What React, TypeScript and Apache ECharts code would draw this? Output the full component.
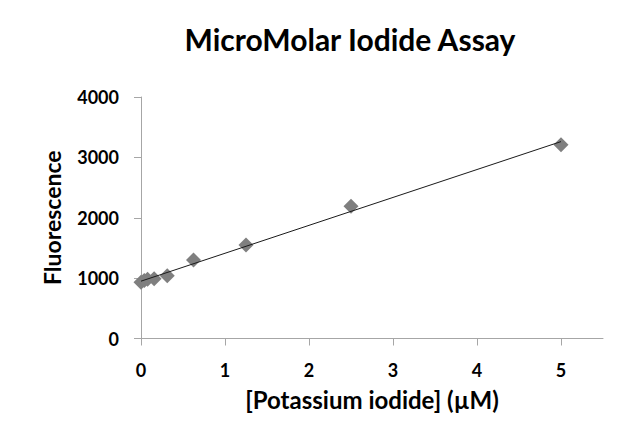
import React, { useEffect, useRef } from "react";
import * as echarts from "echarts";

const concentrations = [0, 0.039, 0.078, 0.156, 0.3125, 0.625, 1.25, 2.5, 5];
const fluorescence = [930, 960, 980, 990, 1040, 1300, 1550, 2190, 3210];
const xTicks = [0, 1, 2, 3, 4, 5];
const yTicks = [0, 1000, 2000, 3000, 4000];

function linearFit(xs: number[], ys: number[]) {
  const n = xs.length;
  const mx = xs.reduce((a, b) => a + b, 0) / n;
  const my = ys.reduce((a, b) => a + b, 0) / n;
  let sxy = 0;
  let sxx = 0;
  for (let i = 0; i < n; i++) {
    sxy += (xs[i] - mx) * (ys[i] - my);
    sxx += (xs[i] - mx) * (xs[i] - mx);
  }
  const slope = sxy / sxx;
  return { slope, intercept: my - slope * mx };
}

export default function App() {
  const ref = useRef<HTMLDivElement>(null);
  useEffect(() => {
    if (!ref.current) return;
    const chart = echarts.init(ref.current, undefined, { renderer: "svg" });
    const fit = linearFit(concentrations, fluorescence);
    const xMin = Math.min(...concentrations);
    const xMax = Math.max(...concentrations);
    const trend = [
      [xMin, fit.intercept + fit.slope * xMin],
      [xMax, fit.intercept + fit.slope * xMax],
    ];
    const font = "Lato, 'Open Sans', sans-serif";
    chart.setOption({
      animation: false,
      backgroundColor: "#ffffff",
      title: {
        text: "MicroMolar Iodide Assay",
        left: 345,
        top: 19,
        textAlign: "center",
        textStyle: { fontFamily: font, fontWeight: "bold", fontSize: 30, color: "#000" },
      },
      grid: { left: 141, right: 37, top: 97, bottom: 108.5 },
      xAxis: {
        type: "value",
        min: 0,
        max: 5.5,
        interval: 1,
        name: "[Potassium iodide] (µM)",
        nameLocation: "middle",
        nameGap: 49,
        nameTextStyle: { fontFamily: font, fontWeight: "bold", fontSize: 24, color: "#000" },
        axisLine: { show: true, lineStyle: { color: "#a6a6a6", width: 1 } },
        axisTick: { show: true, length: 7, lineStyle: { color: "#a6a6a6" }, customValues: xTicks },
        axisLabel: {
          fontFamily: font,
          fontWeight: "bold",
          fontSize: 18,
          color: "#000",
          margin: 22,
          customValues: xTicks,
          formatter: (v: number) => String(v),
        },
        splitLine: { show: false },
      },
      yAxis: {
        type: "value",
        min: 0,
        max: 4000,
        interval: 1000,
        name: "Fluorescence",
        nameLocation: "middle",
        nameGap: 78,
        nameRotate: 90,
        nameTextStyle: { fontFamily: font, fontWeight: "bold", fontSize: 23, color: "#000" },
        axisLine: { show: true, lineStyle: { color: "#a6a6a6", width: 1 } },
        axisTick: { show: true, length: 7, lineStyle: { color: "#a6a6a6" }, customValues: yTicks },
        axisLabel: {
          fontFamily: font,
          fontWeight: "bold",
          fontSize: 18,
          color: "#000",
          margin: 22,
          customValues: yTicks,
          formatter: (v: number) => String(v),
        },
        splitLine: { show: false },
      },
      series: [
        {
          type: "line",
          data: trend,
          symbol: "none",
          lineStyle: { color: "#1a1a1a", width: 1 },
          z: 3,
        },
        {
          type: "scatter",
          data: concentrations.map((x, i) => [x, fluorescence[i]]),
          symbol: "diamond",
          symbolSize: 15,
          itemStyle: { color: "#7f7f7f", opacity: 1 },
          z: 2,
        },
      ],
    });
    return () => chart.dispose();
  }, []);
  return <div ref={ref} style={{ width: 640, height: 447, position: "absolute", left: 0, top: 0 }} />;
}
